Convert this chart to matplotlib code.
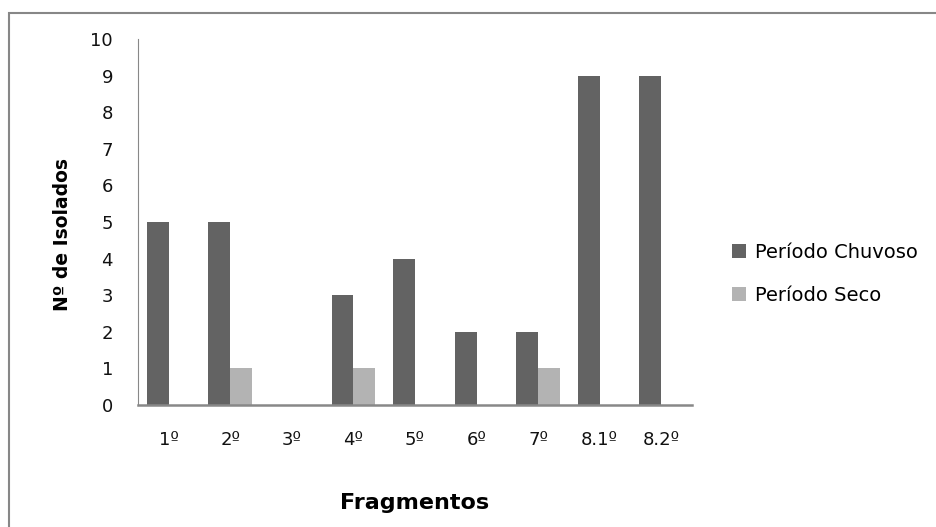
import matplotlib
matplotlib.use("Agg")
import matplotlib.pyplot as plt
import numpy as np
from matplotlib.patches import Rectangle

categories = ["1º", "2º", "3º", "4º", "5º", "6º", "7º", "8.1º", "8.2º"]
chuvoso = [5, 5, 0, 3, 4, 2, 2, 9, 9]
seco = [0, 1, 0, 1, 0, 0, 1, 0, 0]
series_names = ["Período Chuvoso", "Período Seco"]
yticks = list(range(0, 11))

W, H = 936, 527
fig = plt.figure(figsize=(W/100, H/100), dpi=100)
fig.patch.set_facecolor("white")

# outer border (only left and top visible)
fig.add_artist(Rectangle((8.5/W, -0.5), 2, 1.5 - 12.5/H, transform=fig.transFigure,
                         fill=False, edgecolor="#878787", linewidth=1.5))

ax = fig.add_axes([138/W, 1 - 405/H, (692-138)/W, (405-39)/H])
x = np.arange(len(categories))
bw = 0.355
ax.bar(x - bw/2, chuvoso, bw, color="#636363", label=series_names[0])
ax.bar(x + bw/2, seco, bw, color="#b3b3b3", label=series_names[1])

ax.set_xlim(-0.5, len(categories) - 0.5)
ax.set_ylim(0, 10)
ax.set_yticks(yticks)
ax.set_xticks(x)
ax.set_xticklabels(categories)
tf = "DejaVu Sans"
for lab in ax.get_xticklabels() + ax.get_yticklabels():
    lab.set_fontfamily(tf)
    lab.set_fontsize(13)
    lab.set_color("#111111")
ax.tick_params(axis="y", length=0, pad=18)
ax.tick_params(axis="x", length=0, pad=19)
for s in ["top", "right"]:
    ax.spines[s].set_visible(False)
ax.spines["left"].set_color("#888888")
ax.spines["bottom"].set_color("#888888")
ax.spines["bottom"].set_linewidth(1.8)

ax.set_ylabel("Nº de Isolados", fontfamily="DejaVu Sans", fontweight="bold", fontsize=13.5)
ax.yaxis.set_label_coords(-(138-72)/(692-138), 0.465)
ax.set_xlabel("Fragmentos", fontfamily="DejaVu Sans", fontweight="bold", fontsize=16)
ax.xaxis.set_label_coords(0.5, -(493-405)/(405-39))

leg = fig.legend(loc="upper left", bbox_to_anchor=(714/W, 1 - 225/H), frameon=False,
                 prop={"family": tf, "size": 14}, handlelength=0.75, handleheight=0.75,
                 labelspacing=1.25, handletextpad=0.45)

fig.savefig("out.png", dpi=100)
